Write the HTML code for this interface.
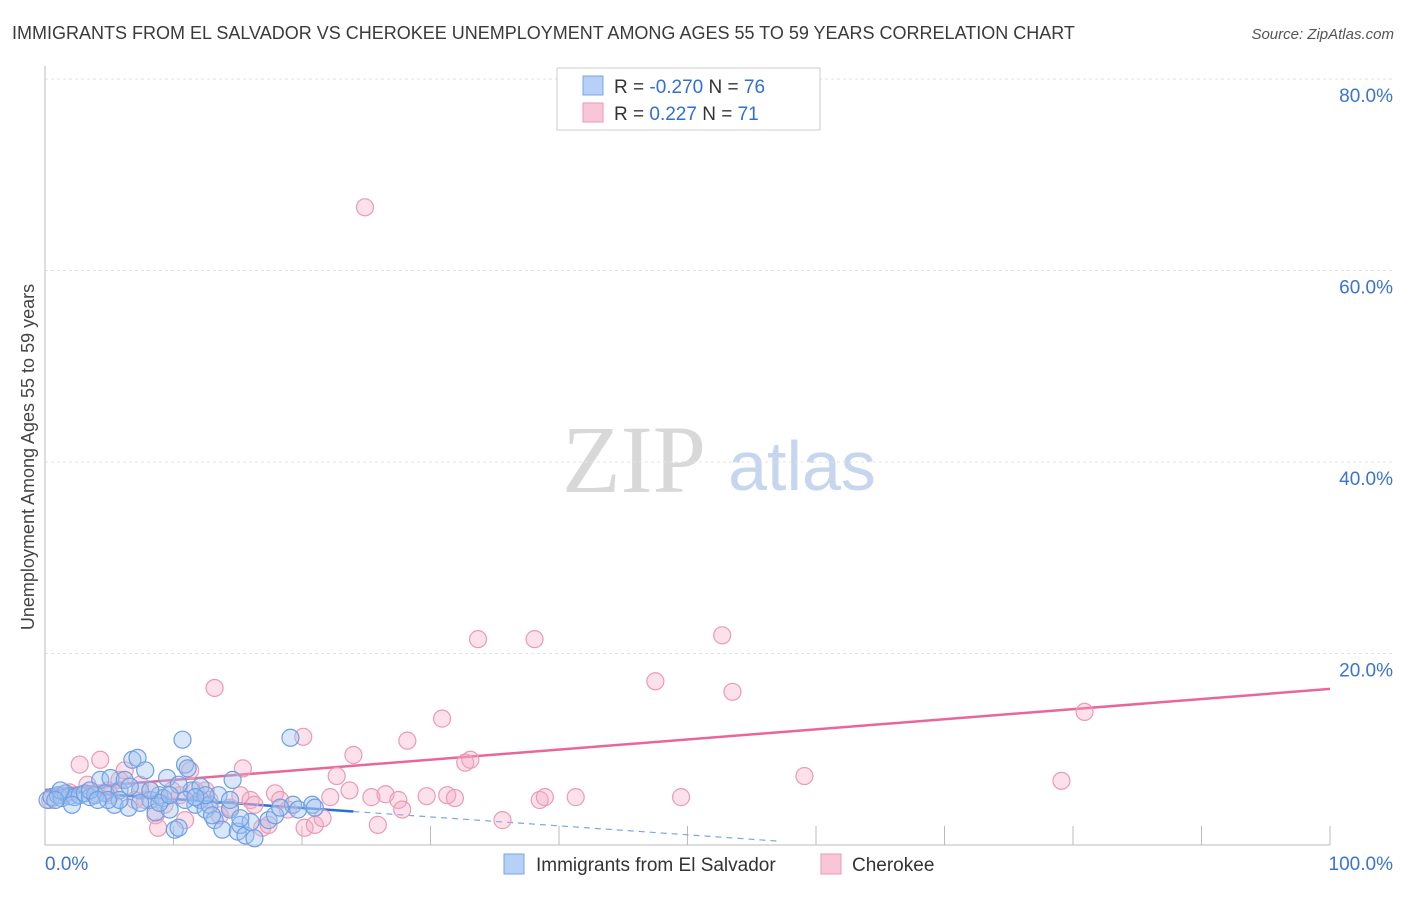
<!DOCTYPE html>
<html><head><meta charset="utf-8"><style>
body{margin:0;background:#fff;font-family:"Liberation Sans",sans-serif;}
</style></head><body>
<svg id="chart" width="1406" height="892" xmlns="http://www.w3.org/2000/svg" font-family="Liberation Sans, sans-serif">
<text x="12" y="39" font-size="18" fill="#3a3a3a">IMMIGRANTS FROM EL SALVADOR VS CHEROKEE UNEMPLOYMENT AMONG AGES 55 TO 59 YEARS CORRELATION CHART</text>
<text x="1394" y="39" font-size="15" fill="#555" font-style="italic" text-anchor="end">Source: ZipAtlas.com</text>
<text transform="translate(34,457) rotate(-90)" font-size="18" fill="#444" text-anchor="middle">Unemployment Among Ages 55 to 59 years</text>
<g>
<text x="634" y="492" font-size="96" font-family="Liberation Serif, serif" fill="#d8d8d8" text-anchor="middle">ZIP</text>
<text x="802" y="490" font-size="70" fill="#c5d6ee" text-anchor="middle">atlas</text>
</g>
<g id="grid"></g><g id="axes"></g><g id="trend"></g><g id="pts"></g>
<g>
<rect x="557" y="68" width="263" height="62" fill="#fff" stroke="#ccc"/>
<rect x="583" y="76" width="20" height="19" fill="#b7d0f5" stroke="#7aa6e6"/>
<rect x="583" y="103" width="20" height="19" fill="#f8c6d6" stroke="#eb9ab4"/>
<text x="614" y="93" font-size="19" fill="#333">R = <tspan fill="#2f6fd6">-0.270</tspan>   N = <tspan fill="#2f6fd6">76</tspan></text>
<text x="614" y="120" font-size="19" fill="#333">R =   <tspan fill="#2f6fd6">0.227</tspan>   N =  <tspan fill="#2f6fd6">71</tspan></text>
</g>
<g>
<rect x="504" y="854" width="20" height="20" fill="#b7d0f5" stroke="#7aa6e6"/>
<text x="536" y="871" font-size="19" fill="#333">Immigrants from El Salvador</text>
<rect x="821" y="854" width="20" height="20" fill="#f8c6d6" stroke="#eb9ab4"/>
<text x="852" y="871" font-size="19" fill="#333">Cherokee</text>
</g>
</svg>
<script>
const yTicks=[20,40,60,80];
const xTickLabels=["0.0%","100.0%"];
const blueX=[0.2,0.5,1.0,1.3,1.6,1.9,2.3,2.7,3.1,3.5,3.9,4.3,4.7,5.1,5.4,5.8,6.2,6.5,6.8,7.2,7.4,7.8,8.2,8.6,8.9,9.2,9.5,9.7,10.1,10.4,10.7,10.9,11.1,11.4,11.7,12.1,12.5,12.8,13.2,13.5,13.8,14.4,14.6,15.0,15.2,15.6,16.3,17.4,17.9,19.1,19.3,19.7,20.8,21.0,5.8,3.5,4.9,7.4,8.9,10.4,10.9,12.1,13.0,14.4,16.0,1.2,2.1,4.1,6.6,8.2,9.7,12.5,15.2,18.3,11.7,0.8];
const blueY=[4.7,5.0,5.2,4.9,5.4,5.1,5.0,5.2,5.4,5.0,5.2,6.8,5.4,7.0,4.2,5.7,6.8,3.9,8.9,9.1,5.7,7.8,4.7,3.4,5.2,4.9,7.0,3.7,1.6,1.8,11.0,8.4,8.0,5.7,4.2,4.7,3.7,4.2,2.6,5.2,1.6,3.7,6.8,1.4,2.1,1.0,0.7,2.6,3.1,11.2,4.2,3.7,4.2,3.9,4.7,5.7,4.7,4.4,4.4,6.3,4.7,6.1,3.1,4.7,2.4,5.7,4.2,4.7,6.1,5.7,5.2,5.2,2.8,3.9,5.0,4.7];
const pinkX=[0.4,1.2,1.9,2.7,3.3,4.0,4.3,4.9,5.8,6.2,7.4,7.8,8.2,8.6,8.8,9.3,9.9,10.5,11.3,11.7,12.5,13.2,13.6,14.4,15.2,15.4,16.0,16.9,17.4,17.9,18.3,18.9,20.1,20.2,21.0,21.6,22.2,22.7,24.0,24.9,25.4,25.9,26.5,27.5,27.8,28.2,29.7,30.9,31.3,31.9,32.7,33.1,33.7,35.6,38.1,38.5,38.9,41.3,47.5,49.5,52.7,53.5,59.1,79.1,80.9,5.1,7.0,10.9,12.8,16.3,23.7];
const pinkY=[4.7,5.2,5.5,8.4,6.3,5.4,8.9,5.7,6.8,7.8,6.3,4.7,5.7,3.1,1.8,4.2,5.7,5.2,7.8,5.7,5.7,16.4,3.1,3.9,5.2,8.0,4.7,1.8,2.1,5.4,4.7,3.7,11.3,1.8,2.1,2.8,5.0,7.2,9.4,66.6,5.0,2.1,5.3,4.7,3.7,10.9,5.1,13.2,5.2,4.9,8.6,8.9,21.5,2.6,21.5,4.7,5.0,5.0,17.1,5.0,21.9,16.0,7.2,6.7,13.9,5.2,4.7,2.6,4.7,4.2,5.7];
const blueTrend=[5.74,-0.0935];
const pinkTrend=[5.74,0.1056];
const NS="http://www.w3.org/2000/svg";
const X=v=>45+v*12.85, Y=v=>845-v*9.575;
function mk(tag,parent,attrs){const e=document.createElementNS(NS,tag);for(const k in attrs)e.setAttribute(k,attrs[k]);document.getElementById(parent).appendChild(e);return e;}
yTicks.forEach(t=>{
 const l=mk('line','grid',{x1:45,x2:1392,y1:Y(t),y2:Y(t),stroke:'#e3e3e3','stroke-dasharray':'3,3'});
 
 
 const tx=mk('text','grid',{x:1393,y:Y(t)+23,'font-size':19,fill:'#3b73d1','text-anchor':'end'});
 tx.textContent=t.toFixed(1)+'%';
 
 
});
const ya=mk('line','axes',{x1:45,x2:45,y1:66,y2:845,stroke:'#bbb'});


const xa=mk('line','axes',{x1:45,x2:1330,y1:845,y2:845,stroke:'#bbb'});


for(let i=1;i<=10;i++){const t=mk('line','axes',{x1:X(i*10),x2:X(i*10),y1:826,y2:845,stroke:'#bbb'});
 
 }
[[0,'start',45],[100,'end',1393]].forEach((d,i)=>{const t=mk('text','axes',{x:d[2],y:870,'font-size':19,fill:'#3b73d1','text-anchor':d[1]});t.textContent=xTickLabels[i];
 
 });
function pts(xs,ys,fill,stroke,name){xs.forEach((x,i)=>{const c=mk('circle','pts',{cx:X(x),cy:Y(ys[i]),r:8.5,fill:fill,stroke:stroke,'stroke-width':1.2});
 
 });}
pts(pinkX,pinkY,'rgba(245,170,195,0.35)','#eb9ab4','point-cherokee');
pts(blueX,blueY,'rgba(160,195,240,0.4)','#6f9fe3','point-el-salvador');
const tb=mk('line','trend',{x1:X(0),y1:Y(blueTrend[0]),x2:X(24),y2:Y(blueTrend[0]+blueTrend[1]*24),stroke:'#2a6fd8','stroke-width':2.5});


const tbd=mk('line','trend',{x1:X(24),y1:Y(blueTrend[0]+blueTrend[1]*24),x2:X(57),y2:Y(blueTrend[0]+blueTrend[1]*57),stroke:'#7aa6e6','stroke-width':1.2,'stroke-dasharray':'6,5'});


const tp=mk('line','trend',{x1:X(0),y1:Y(pinkTrend[0]),x2:X(100),y2:Y(pinkTrend[0]+pinkTrend[1]*100),stroke:'#e8679a','stroke-width':2.5});


</script>
</body></html>
